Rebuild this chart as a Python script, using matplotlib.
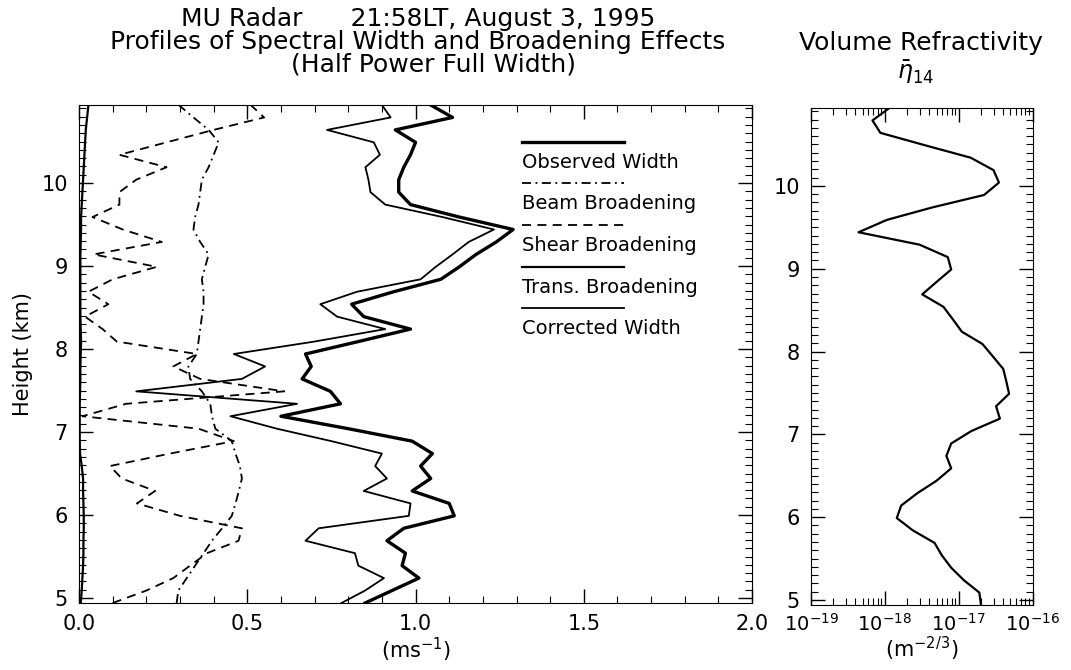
import numpy as np
import matplotlib
matplotlib.use('Agg')
import matplotlib.pyplot as plt
from matplotlib.ticker import MultipleLocator, LogLocator, NullFormatter

plt.rcParams['font.family'] = ['DejaVu Sans']
plt.rcParams['mathtext.fontset'] = 'dejavusans'

# Heights (km), 150 m range gates
height = [4.94, 5.09, 5.24, 5.39, 5.54, 5.69, 5.84, 5.99, 6.14, 6.29, 6.44,
          6.59, 6.74, 6.89, 7.04, 7.19, 7.34, 7.49, 7.64, 7.79, 7.94, 8.09,
          8.24, 8.39, 8.54, 8.69, 8.84, 8.99, 9.14, 9.29, 9.44, 9.59, 9.74,
          9.89, 10.04, 10.19, 10.34, 10.49, 10.64, 10.79, 10.94]

# widths in m/s
observed = [0.85, 0.93, 1.01, 0.96, 0.97, 0.915, 0.965, 1.115, 1.10, 0.99, 1.045,
            1.015, 1.05, 0.99, 0.80, 0.60, 0.777, 0.747, 0.663, 0.69, 0.673, 0.83,
            0.985, 0.846, 0.81, 0.935, 1.075, 1.13, 1.18, 1.24, 1.29, 1.13, 0.985,
            0.95, 0.95, 0.965, 0.985, 1.0, 0.94, 1.11, 1.045]
corrected = [0.78, 0.85, 0.906, 0.83, 0.82, 0.673, 0.712, 0.98, 0.985, 0.846, 0.915,
             0.88, 0.90, 0.75, 0.588, 0.45, 0.648, 0.17, 0.484, 0.553, 0.46, 0.70,
             0.91, 0.767, 0.717, 0.826, 1.015, 1.06, 1.11, 1.158, 1.233, 1.08, 0.91,
             0.866, 0.86, 0.851, 0.894, 0.876, 0.737, 0.926, 0.90]
beam = [0.29, 0.295, 0.32, 0.345, 0.37, 0.395, 0.425, 0.454, 0.465, 0.475, 0.484,
        0.478, 0.465, 0.454, 0.405, 0.395, 0.39, 0.365, 0.33, 0.325, 0.35, 0.355,
        0.36, 0.365, 0.37, 0.37, 0.365, 0.375, 0.385, 0.36, 0.34, 0.345, 0.355,
        0.36, 0.365, 0.385, 0.40, 0.415, 0.385, 0.34, 0.296]
shear = [0.10, 0.20, 0.28, 0.33, 0.38, 0.474, 0.484, 0.30, 0.172, 0.226, 0.127,
         0.092, 0.27, 0.46, 0.355, 0.01, 0.14, 0.61, 0.36, 0.28, 0.35, 0.112,
         0.07, 0.018, 0.087, 0.028, 0.10, 0.231, 0.043, 0.246, 0.13, 0.04, 0.12,
         0.12, 0.17, 0.26, 0.12, 0.26, 0.40, 0.55, 0.51]
trans = [0.005, 0.008, 0.010, 0.012, 0.013, 0.013, 0.014, 0.014, 0.013, 0.012, 0.012,
         0.008, 0.003, 0.002, 0.002, 0.002, 0.002, 0.003, 0.004, 0.004, 0.005, 0.006,
         0.005, 0.004, 0.004, 0.004, 0.004, 0.004, 0.004, 0.005, 0.006, 0.006, 0.008,
         0.010, 0.012, 0.014, 0.016, 0.018, 0.020, 0.024, 0.028]

# volume refractivity eta_14 (m^-2/3)
eta = [2.0e-17, 1.9e-17, 1.17e-17, 7.9e-18, 5.9e-18, 4.7e-18, 2.4e-18, 1.45e-18,
       1.66e-18, 2.75e-18, 5.0e-18, 7.9e-18, 6.8e-18, 7.9e-18, 1.48e-17, 3.6e-17,
       3.2e-17, 4.8e-17, 4.4e-17, 4.0e-17, 2.9e-17, 2.1e-17, 1.1e-17, 8.3e-18,
       6.2e-18, 3.2e-18, 5.0e-18, 7.9e-18, 7.1e-18, 2.95e-18, 4.4e-19, 1.07e-18,
       4.4e-18, 2.2e-17, 3.5e-17, 2.95e-17, 1.45e-17, 3.5e-18, 8.7e-19, 6.8e-19,
       1.15e-18]

labels = ['Observed Width', 'Beam Broadening', 'Shear Broadening',
          'Trans. Broadening', 'Corrected Width']

fs = 15      # tick labels / axis labels
lfs = 14     # legend
tfs = 18     # titles

fig = plt.figure(figsize=(10.71, 6.70), dpi=100)
ax = fig.add_axes([0.0738, 0.100, 0.6284, 0.7433])
ax2 = fig.add_axes([0.7572, 0.097, 0.2070, 0.7418])

styles = [dict(color='k', lw=2.4, ls='-'),
          dict(color='k', lw=1.3, ls=(0, (5, 2.5, 1, 2.5))),
          dict(color='k', lw=1.3, ls=(0, (5, 3.5))),
          dict(color='k', lw=1.6, ls='-'),
          dict(color='k', lw=1.3, ls='-')]
series = [observed, beam, shear, trans, corrected]

for vals, st in zip(series, styles):
    ax.plot(vals, height, **st)

ax.set_xlim(0, 2.0)
ax.set_ylim(4.94, 10.94)
ax.xaxis.set_major_locator(MultipleLocator(0.5))
ax.xaxis.set_minor_locator(MultipleLocator(0.1))
ax.yaxis.set_major_locator(MultipleLocator(1))
ax.yaxis.set_minor_locator(MultipleLocator(0.1))
ax.xaxis.set_major_formatter(plt.FormatStrFormatter('%.1f'))
ax.tick_params(which='both', direction='in', top=True, right=True, labelsize=fs)
ax.tick_params(which='major', length=10, width=1.0, pad=8)
ax.tick_params(which='minor', length=5, width=0.8)
ax.set_ylabel('Height (km)', fontsize=fs, labelpad=6)
ax.set_xlabel('(ms$^{-1}$)', fontsize=fs, labelpad=1)

# legend: line sample above each label
x0, x1 = 0.658, 0.809
ytop, dy = 0.926, 0.0835
for i, (lab, st) in enumerate(zip(labels, styles)):
    yl = ytop - i * dy
    ax.plot([x0, x1], [yl, yl], transform=ax.transAxes, **st)
    ax.text(x0, yl - 0.041, lab, transform=ax.transAxes, fontsize=lfs,
            ha='left', va='center')

# right panel
ax2.plot(eta, height, color='k', lw=1.6)
ax2.set_xscale('log')
ax2.set_xlim(1e-19, 1e-16)
ax2.set_ylim(4.94, 10.94)
ax2.xaxis.set_major_locator(LogLocator(base=10, numticks=10))
ax2.xaxis.set_minor_locator(LogLocator(base=10, subs=np.arange(2, 10), numticks=20))
ax2.xaxis.set_minor_formatter(NullFormatter())
ax2.yaxis.set_major_locator(MultipleLocator(1))
ax2.yaxis.set_minor_locator(MultipleLocator(0.1))
ax2.tick_params(which='both', direction='in', top=True, right=True, labelsize=fs)
ax2.tick_params(axis='x', which='major', labelsize=fs - 1, pad=6)
ax2.tick_params(which='major', length=10, width=1.0)
ax2.tick_params(axis='y', which='major', pad=8)
ax2.tick_params(which='minor', length=5, width=0.8)
ax2.set_xlabel('(m$^{-2/3}$)', fontsize=fs, labelpad=0)

# titles
cx = 0.390
fig.text(cx, 0.972, 'MU Radar      21:58LT, August 3, 1995', fontsize=tfs,
         ha='center', va='center')
fig.text(cx, 0.938, 'Profiles of Spectral Width and Broadening Effects',
         fontsize=tfs, ha='center', va='center')
fig.text(cx + 0.015, 0.904, '(Half Power Full Width)', fontsize=tfs,
         ha='center', va='center')
fig.text(0.860, 0.936, 'Volume Refractivity', fontsize=tfs,
         ha='center', va='center')
fig.text(0.855, 0.893, r'$\bar{\eta}_{14}$', fontsize=tfs - 1,
         ha='center', va='center')

fig.savefig('out.png', dpi=100)
